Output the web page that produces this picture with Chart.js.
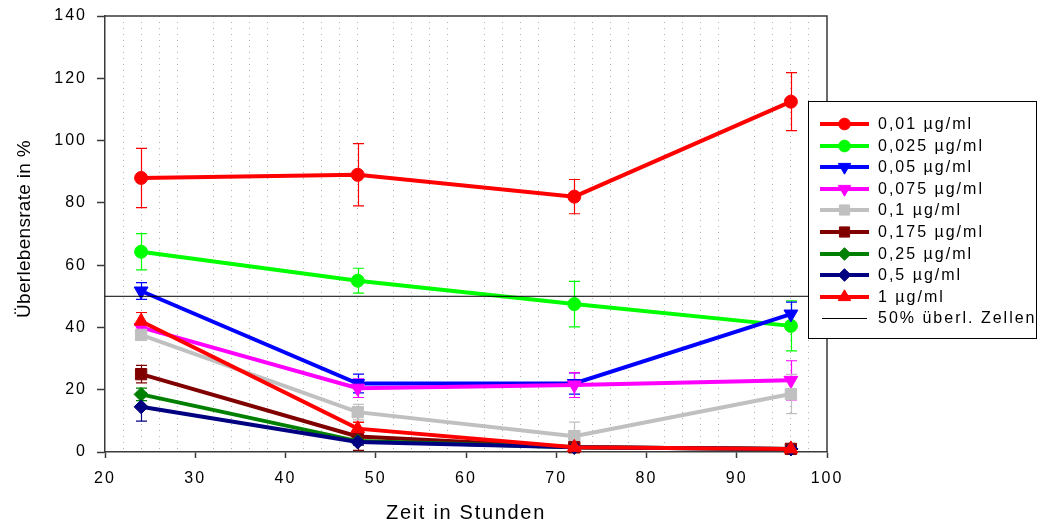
<!DOCTYPE html>
<html>
<head>
<meta charset="utf-8">
<script src="https://cdn.jsdelivr.net/npm/chart.js@4/dist/chart.umd.min.js"></script>
<style>
  html, body { margin: 0; padding: 0; background: #ffffff; }
  #wrap { width: 1040px; height: 524px; position: relative; }
</style>
</head>
<body>
<div id="wrap"><canvas id="c" width="1040" height="524"></canvas></div>
<script>
// Measurement times (hours)
const hours = [24, 48, 72, 96];

// Series names (concentrations)
const seriesNames = ['0,01 µg/ml', '0,025 µg/ml', '0,05 µg/ml', '0,075 µg/ml', '0,1 µg/ml',
                     '0,175 µg/ml', '0,25 µg/ml', '0,5 µg/ml', '1 µg/ml'];

// Survival rate in % per concentration, with standard deviation
const survival_0_01  = [88, 89, 82, 112.5];
const sd_0_01        = [9.5, 10, 5.5, 9.3];
const survival_0_025 = [64.3, 55, 47.5, 40.5];
const sd_0_025       = [5.8, 4, 7.3, 8];
const survival_0_05  = [51.7, 22, 22, 44.3];
const sd_0_05        = [2.7, 3, 3.4, 3.8];
const survival_0_075 = [40, 20.5, 21.5, 23];
const sd_0_075       = [1.5, 3, 4, 6.3];
const survival_0_1   = [37.6, 12.8, 5.1, 18.6];
const sd_0_1         = [1.5, 2.5, 4.5, 6.3];
const survival_0_175 = [25, 5, 1.5, 1];
const sd_0_175       = [2.8, 4.5, 0.5, 0.5];
const survival_0_25  = [18.5, 3.5, 1.5, 1];
const sd_0_25        = [2, 1, 0.5, 0.5];
const survival_0_5   = [14.5, 3.2, 1.5, 1];
const sd_0_5         = [4.6, 1, 0.5, 0.5];
const survival_1     = [42, 7.5, 1.5, 1];
const sd_1           = [2.8, 2, 0.5, 0.5];

// 50 % threshold line
const thresholdName = '50% überl. Zellen';
const thresholdValue = 50;
const thresholdSpan = [20, 100];

// Axis ranges and tick steps
const xRange = [20, 100];
const xMajorStep = 10;
const xMinorStep = 2;
const yRange = [0, 140];
const yStep = 20;

const axisTitleX = 'Zeit in Stunden';
const axisTitleY = 'Überlebensrate in %';

// ---- styling ----
const seriesValues = [survival_0_01, survival_0_025, survival_0_05, survival_0_075, survival_0_1,
                      survival_0_175, survival_0_25, survival_0_5, survival_1];
const seriesErrors = [sd_0_01, sd_0_025, sd_0_05, sd_0_075, sd_0_1,
                      sd_0_175, sd_0_25, sd_0_5, sd_1];
const seriesColors = ['#ff0000', '#00ff00', '#0000ff', '#ff00ff', '#c0c0c0',
                      '#800000', '#008000', '#000080', '#ff0000'];
const seriesMarkers = [
  { style: 'circle',   rotation: 0,   radius: 6.5 },
  { style: 'circle',   rotation: 0,   radius: 6.5 },
  { style: 'triangle', rotation: 180, radius: 8 },
  { style: 'triangle', rotation: 180, radius: 8 },
  { style: 'rect',     rotation: 0,   radius: 8 },
  { style: 'rect',     rotation: 0,   radius: 8 },
  { style: 'rectRot',  rotation: 0,   radius: 7 },
  { style: 'rectRot',  rotation: 0,   radius: 7 },
  { style: 'triangle', rotation: 0,   radius: 8 }
];
const FONT = '"Liberation Sans", Arial, sans-serif';
const AXIS_COLOR = '#3a3a3a';

const datasets = seriesValues.map((vals, i) => ({
  label: seriesNames[i],
  data: hours.map((h, k) => ({ x: h, y: vals[k] })),
  errors: seriesErrors[i],
  borderColor: seriesColors[i],
  backgroundColor: seriesColors[i],
  borderWidth: 4,
  pointStyle: seriesMarkers[i].style,
  pointRotation: seriesMarkers[i].rotation,
  pointRadius: seriesMarkers[i].radius,
  pointBorderWidth: 1,
  pointBackgroundColor: seriesColors[i],
  pointBorderColor: seriesColors[i],
  tension: 0,
  clip: false,
  order: 20 - i
}));
datasets.push({
  label: thresholdName,
  data: thresholdSpan.map(x => ({ x: x, y: thresholdValue })),
  borderColor: '#000000',
  backgroundColor: '#000000',
  borderWidth: 1,
  pointRadius: 0,
  tension: 0,
  order: 0
});

function markerPath(ctx, m, x, y, r) {
  if (Chart.helpers && Chart.helpers.drawPoint) {
    Chart.helpers.drawPoint(ctx, { pointStyle: m.style, rotation: m.rotation, radius: r, borderWidth: 1 }, x, y);
  }
}

// Error bars, drawn beneath the lines
const errorBars = {
  id: 'errorBars',
  beforeDatasetsDraw(chart) {
    const ctx = chart.ctx;
    const xs = chart.scales.x, ys = chart.scales.y;
    ctx.save();
    chart.data.datasets.forEach((ds) => {
      if (!ds.errors) return;
      ctx.strokeStyle = ds.borderColor;
      ctx.lineWidth = 1.2;
      ds.data.forEach((p, k) => {
        const e = ds.errors[k];
        const px = Math.round(xs.getPixelForValue(p.x)) + 0.5;
        const yt = ys.getPixelForValue(p.y + e);
        const yb = ys.getPixelForValue(p.y - e);
        ctx.beginPath();
        ctx.moveTo(px, yt); ctx.lineTo(px, yb);
        ctx.moveTo(px - 5.5, yt); ctx.lineTo(px + 5.5, yt);
        ctx.moveTo(px - 5.5, yb); ctx.lineTo(px + 5.5, yb);
        ctx.stroke();
      });
    });
    ctx.restore();
  }
};

// Frame, axis titles and the legend box
const decorations = {
  id: 'decorations',
  beforeDraw(chart) {
    chart.ctx.letterSpacing = '2px';
  },
  afterDraw(chart) {
    const ctx = chart.ctx;
    const a = chart.chartArea;
    ctx.save();
    // top and right frame lines
    ctx.strokeStyle = AXIS_COLOR;
    ctx.lineWidth = 1.5;
    ctx.beginPath();
    ctx.moveTo(a.left, a.top); ctx.lineTo(a.right, a.top); ctx.lineTo(a.right, a.bottom);
    ctx.stroke();

    // axis titles
    ctx.fillStyle = '#000';
    ctx.letterSpacing = '1.7px';
    ctx.font = '20px ' + FONT;
    ctx.textAlign = 'center';
    ctx.textBaseline = 'alphabetic';
    ctx.fillText(axisTitleX, (a.left + a.right) / 2, 519);

    ctx.letterSpacing = '0.3px';
    ctx.font = '19px ' + FONT;
    ctx.save();
    ctx.translate(30, 229);
    ctx.rotate(-Math.PI / 2);
    ctx.fillText(axisTitleY, 0, 0);
    ctx.restore();

    // legend
    const lx = 808, ly = 101, lw = 228, lh = 237;
    ctx.fillStyle = '#ffffff';
    ctx.fillRect(lx, ly, lw, lh);
    ctx.strokeStyle = '#000';
    ctx.lineWidth = 1;
    ctx.strokeRect(lx + 0.5, ly + 0.5, lw, lh);

    ctx.font = '16px ' + FONT;
    ctx.letterSpacing = '2px';
    ctx.textAlign = 'left';
    ctx.textBaseline = 'middle';
    const rowStep = 21.6;
    chart.data.datasets.forEach((ds, i) => {
      const cy = Math.round(124 + i * rowStep);
      ctx.strokeStyle = ds.borderColor;
      ctx.lineWidth = ds.borderWidth;
      ctx.beginPath();
      if (ds.errors) { ctx.moveTo(820, cy); ctx.lineTo(869, cy); }
      else { ctx.moveTo(822, cy + 0.5); ctx.lineTo(867, cy + 0.5); }
      ctx.stroke();
      if (ds.errors) {
        ctx.fillStyle = ds.borderColor;
        ctx.lineWidth = 1;
        markerPath(ctx, seriesMarkers[i], 844.5, cy, seriesMarkers[i].radius * 0.9);
      }
      ctx.fillStyle = '#000';
      ctx.fillText(ds.label, 878, cy + 1);
    });
    ctx.restore();
  }
};

new Chart(document.getElementById('c'), {
  type: 'line',
  data: { datasets: datasets },
  options: {
    responsive: false,
    animation: false,
    devicePixelRatio: 1,
    layout: { padding: { top: 16, right: 213, left: 0, bottom: 0 } },
    plugins: { legend: { display: false }, tooltip: { enabled: false } },
    scales: {
      x: {
        type: 'linear',
        min: xRange[0], max: xRange[1],
        afterFit(s) { s.height = 72; s.paddingLeft = 0; s.paddingRight = 0; },
        ticks: {
          stepSize: xMinorStep,
          autoSkip: false,
          maxRotation: 0,
          padding: 11,
          color: '#000',
          font: { family: FONT, size: 16 },
          callback: (v) => (v % xMajorStep === 0 ? String(v) : '')
        },
        grid: {
          drawOnChartArea: true,
          color: (c) => (c.tick && c.tick.value % xMajorStep === 0) ? 'rgba(0,0,0,0)' : '#b0b0b0',
          lineWidth: 1,
          tickColor: (c) => (c.tick && c.tick.value % xMajorStep === 0) ? AXIS_COLOR : 'rgba(0,0,0,0)',
          tickBorderDash: [],
          tickLength: 6,
          tickWidth: 1.5
        },
        border: { color: AXIS_COLOR, width: 1.5, dash: [1, 5] }
      },
      y: {
        min: yRange[0], max: yRange[1],
        afterFit(s) { s.width = 105; s.paddingTop = 0; s.paddingBottom = 0; },
        ticks: {
          stepSize: yStep,
          padding: 10,
          color: '#000',
          font: { family: FONT, size: 16 }
        },
        grid: {
          drawOnChartArea: false,
          tickColor: AXIS_COLOR,
          tickLength: 8,
          tickWidth: 1.5
        },
        border: { color: AXIS_COLOR, width: 1.5 }
      }
    }
  },
  plugins: [errorBars, decorations]
});
</script>
</body>
</html>
